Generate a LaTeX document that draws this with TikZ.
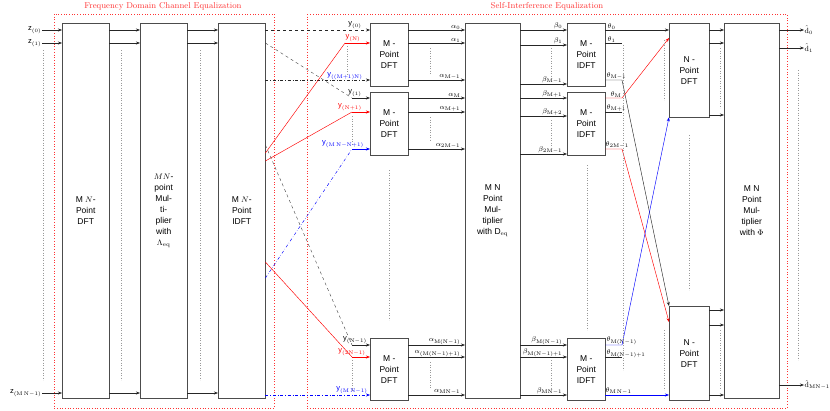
\documentclass[tikz,border=0pt]{standalone}
\usepackage{fontspec}
\setsansfont{Liberation Sans}
\usetikzlibrary{arrows.meta}
\begin{document}
\begin{tikzpicture}[x=1pt,y=-1pt,
  blk/.style={draw=black!70, fill=white, align=center, inner sep=1pt, anchor=north west, font=\sffamily\fontsize{8.5}{11}\selectfont},
  ar/.style={-{Stealth[length=4pt,width=3pt]}, draw=black!85, line width=0.45pt},
  ln/.style={draw=black!85, line width=0.45pt},
  dts/.style={draw=gray!80, dotted, line width=0.5pt},
  lbl/.style={font=\sffamily\fontsize{7.5}{8}\selectfont, inner sep=0.5pt},
  reg/.style={draw=red!80, dotted, line width=0.7pt},
  ttl/.style={text=red!80, font=\fontsize{8.5}{9}\selectfont}]
\useasboundingbox (0,0) rectangle (830,410);
% regions
\draw[reg] (54,14) rectangle (274,408);
\node[ttl] (t1) at (163,6) {Frequency Domain Channel Equalization};
\draw[reg] (307,14) rectangle (787,408);
\node[ttl] (t2) at (547,6) {Self-Interference Equalization};
% big blocks
\node[blk, minimum width=47pt, minimum height=375pt] (dft1) at (62,23) {M $N$-\\Point\\DFT};
\node[blk, minimum width=47pt, minimum height=375pt] (mul1) at (140,23) {$MN$-\\point\\Mul-\\ti-\\plier\\with\\$\Lambda_{\mathrm{eq}}$};
\node[blk, minimum width=47pt, minimum height=375pt] (idft1) at (218,23) {M $N$-\\Point\\IDFT};
\node[blk, minimum width=38pt, minimum height=63pt] (dfta) at (370,23) {M -\\Point\\DFT};
\node[blk, minimum width=38pt, minimum height=63pt] (dftb) at (370,92) {M -\\Point\\DFT};
\node[blk, minimum width=38pt, minimum height=62pt] (dftc) at (370,338) {M -\\Point\\DFT};
\node[blk, minimum width=55pt, minimum height=375pt] (mul2) at (465,23) {M N\\Point\\Mul-\\tiplier\\with D$_{\mathrm{eq}}$};
\node[blk, minimum width=38pt, minimum height=63pt] (idfta) at (567,23) {M -\\Point\\IDFT};
\node[blk, minimum width=38pt, minimum height=63pt] (idftb) at (567,92) {M -\\Point\\IDFT};
\node[blk, minimum width=38pt, minimum height=62pt] (idftc) at (567,338) {M -\\Point\\IDFT};
\node[blk, minimum width=40pt, minimum height=94pt] (ndfta) at (669,23) {N -\\Point\\DFT};
\node[blk, minimum width=40pt, minimum height=94pt] (ndftb) at (669,306) {N -\\Point\\DFT};
\node[blk, minimum width=55pt, minimum height=375pt] (mul3) at (724,23) {M N\\Point\\Mul-\\tiplier\\with $\Phi$};
% inputs
\node[lbl, anchor=east] (z0) at (42,30) {z$_{(0)}$};
\node[lbl, anchor=east] (z1) at (42,43) {z$_{(1)}$};
\node[lbl, anchor=east] (zn) at (42,393) {z$_{(\mathrm{M\,N-1})}$};
\foreach \y/\n in {30/z0,43/z1,393/zn}{
  \draw[ar] (\n.east) -- (dft1.west |- 0,\y);
  \draw[ar] (dft1.east |- 0,\y) -- (mul1.west |- 0,\y);
  \draw[ar] (mul1.east |- 0,\y) -- (idft1.west |- 0,\y);
}
\foreach \x in {43,121,200}{\draw[dts] (\x,50) -- (\x,380);}
% IDFT1 -> M-point DFTs
\draw[gray, dashed, ar] (idft1.east |- 0,30) -- (dfta.west |- 0,30);
\coordinate (k1) at (352,98);
\draw[dashed, black!75, line width=0.4pt] (idft1.east |- 0,43) -- (k1);
\draw[ar] (k1) -- (dftb.west |- k1);
\draw[blue!80, dash dot, ar] (idft1.east |- 0,80) -- (dfta.west |- 0,80);
\coordinate (kN) at (345,43);
\draw[red, line width=0.45pt] (idft1.east |- 0,153) -- (kN);
\draw[ar, draw=red] (kN) -- (dfta.west |- kN);
\coordinate (kN1) at (352,112);
\draw[red, line width=0.45pt] (idft1.east |- 0,161) -- (kN1);
\draw[ar, draw=red] (kN1) -- (dftb.west |- kN1);
\coordinate (kb) at (352,149);
\draw[blue, dash dot, line width=0.45pt] (idft1.east |- 0,278) -- (kb);
\draw[ar, draw=blue] (kb) -- (dftb.west |- kb);
\coordinate (kd) at (352,345);
\draw[dashed, black!75, line width=0.4pt] (idft1.east |- 0,145) -- (kd);
\draw[ar] (kd) -- (dftc.west |- kd);
\coordinate (kr) at (352,357);
\draw[red, line width=0.45pt] (idft1.east |- 0,262) -- (kr);
\draw[ar, draw=red] (kr) -- (dftc.west |- kr);
\draw[blue, dash dot, ar, draw=blue] (idft1.east |- 0,395) -- (dftc.west |- 0,395);
\draw[dts] (347,46) -- (347,76); \draw[dts] (352,116) -- (352,145); \draw[dts] (352,360) -- (352,392);
\node[lbl, anchor=south] (ly0) at (355,29) {y$_{(0)}$};
\node[lbl, anchor=south, text=red] (lyN) at (353,42) {y$_{(\mathrm{N})}$};
\node[lbl, anchor=south, text=blue] (lyM) at (345,80) {y$_{((\mathrm{M+1})\mathrm{N})}$};
\node[lbl, anchor=south] (ly1) at (355,97) {y$_{(1)}$};
\node[lbl, anchor=south, text=red] (lyN1) at (350,111) {y$_{(\mathrm{N+1})}$};
\node[lbl, anchor=south, text=blue] (lyb) at (343,148) {y$_{(\mathrm{M\,N-N+1})}$};
\node[lbl, anchor=south] (lyc) at (355,344) {y$_{(\mathrm{N-1})}$};
\node[lbl, anchor=south, text=red] (lyd) at (352,356) {y$_{(\mathrm{2N-1})}$};
\node[lbl, anchor=south, text=blue] (lye) at (352,394) {y$_{(\mathrm{M\,N-1})}$};
% DFT -> mult2
\foreach \y/\b/\t in {30/dfta/{\alpha_0},43/dfta/{\alpha_1},80/dfta/{\alpha_{\mathrm{M-1}}},98/dftb/{\alpha_{\mathrm{M}}},112/dftb/{\alpha_{\mathrm{M+1}}},149/dftb/{\alpha_{\mathrm{2M-1}}},345/dftc/{\alpha_{\mathrm{M(N-1)}}},357/dftc/{\alpha_{(\mathrm{M(N-1)+1})}},395/dftc/{\alpha_{\mathrm{MN-1}}}}{
  \draw[ar] (\b.east |- 0,\y) -- (mul2.west |- 0,\y);
  \node[lbl, anchor=south east] at (461,\y) {$\t$};
}
\draw[dts] (430,48) -- (430,75); \draw[dts] (430,117) -- (430,140); \draw[dts] (430,362) -- (430,388);
\draw[dts] (389,170) -- (389,320);
% mult2 -> IDFT
\foreach \y/\b/\t in {30/idfta/{\beta_0},45/idfta/{\beta_1},84/idfta/{\beta_{\mathrm{M-1}}},98/idftb/{\beta_{\mathrm{M+1}}},116/idftb/{\beta_{\mathrm{M+2}}},154/idftb/{\beta_{\mathrm{2M-1}}},345/idftc/{\beta_{\mathrm{M(N-1)}}},357/idftc/{\beta_{\mathrm{M(N-1)+1}}},395/idftc/{\beta_{\mathrm{MN-1}}}}{
  \draw[ar] (mul2.east |- 0,\y) -- (\b.west |- 0,\y);
  \node[lbl, anchor=south east] at (563,\y) {$\t$};
}
\draw[dts] (551,48) -- (551,78); \draw[dts] (551,120) -- (551,148); \draw[dts] (551,360) -- (551,390);
\draw[dts] (587,165) -- (587,330);
% IDFT -> N-point DFT
\node[lbl, anchor=south west] at (607,30) {$\theta_0$};
\node[lbl, anchor=south west] at (607,43) {$\theta_1$};
\node[lbl, anchor=south west] at (606,80) {$\theta_{\mathrm{M-1}}$};
\node[lbl, anchor=south west] at (610,98) {$\theta_{\mathrm{M}}$};
\node[lbl, anchor=south west] at (606,112) {$\theta_{\mathrm{M+1}}$};
\node[lbl, anchor=south west] at (605,149) {$\theta_{\mathrm{2M-1}}$};
\node[lbl, anchor=south west] at (606,345) {$\theta_{\mathrm{M(N-1)}}$};
\node[lbl, anchor=south west] at (606,358) {$\theta_{\mathrm{M(N-1)+1}}$};
\node[lbl, anchor=south west] at (605,395) {$\theta_{\mathrm{M\,N-1}}$};
\draw[ar] (idfta.east |- 0,30) -- (ndfta.west |- 0,30);
\draw[ln] (idfta.east |- 0,43) -- (622,43);
\draw[ar] (idfta.east |- 0,80) -- (622,80) -- (ndftb.north west);
\draw[ar, draw=red] (idftb.east |- 0,98) -- (622,98) -- (ndfta.west |- 0,38);
\draw[ln] (idftb.east |- 0,112) -- (622,112);
\draw[ar, draw=red] (idftb.east |- 0,149) -- (622,149) -- (ndftb.west |- 0,322);
\draw[ar, draw=blue] (idftc.east |- 0,345) -- (622,345) -- (ndfta.south west);
\draw[ln] (idftc.east |- 0,357) -- (622,357);
\draw[ar, draw=blue] (idftc.east |- 0,395) -- (ndftb.west |- 0,395);
\draw[dts] (623,45) -- (623,370);
\draw[dts] (664,40) -- (664,100); \draw[dts] (664,330) -- (664,390);
\draw[dts] (689,135) -- (689,290);
% N-point DFT -> mult3
\foreach \y/\b in {30/ndfta,43/ndfta,115/ndfta,310/ndftb,325/ndftb,395/ndftb}{
  \draw[ar] (\b.east |- 0,\y) -- (mul3.west |- 0,\y);
}
\draw[dts] (720,48) -- (720,108); \draw[dts] (720,330) -- (720,388);
% outputs
\node[lbl, anchor=west] (d0) at (804,30) {$\hat{\mathrm{d}}_0$};
\node[lbl, anchor=west] (d1) at (804,48) {$\hat{\mathrm{d}}_1$};
\node[lbl, anchor=west] (dn) at (804,385) {$\hat{\mathrm{d}}_{\mathrm{MN-1}}$};
\foreach \n in {d0,d1,dn}{\draw[ar] (mul3.east |- \n) -- (\n.west);}
\draw[dts] (798,70) -- (798,360);
\end{tikzpicture}
\end{document}
